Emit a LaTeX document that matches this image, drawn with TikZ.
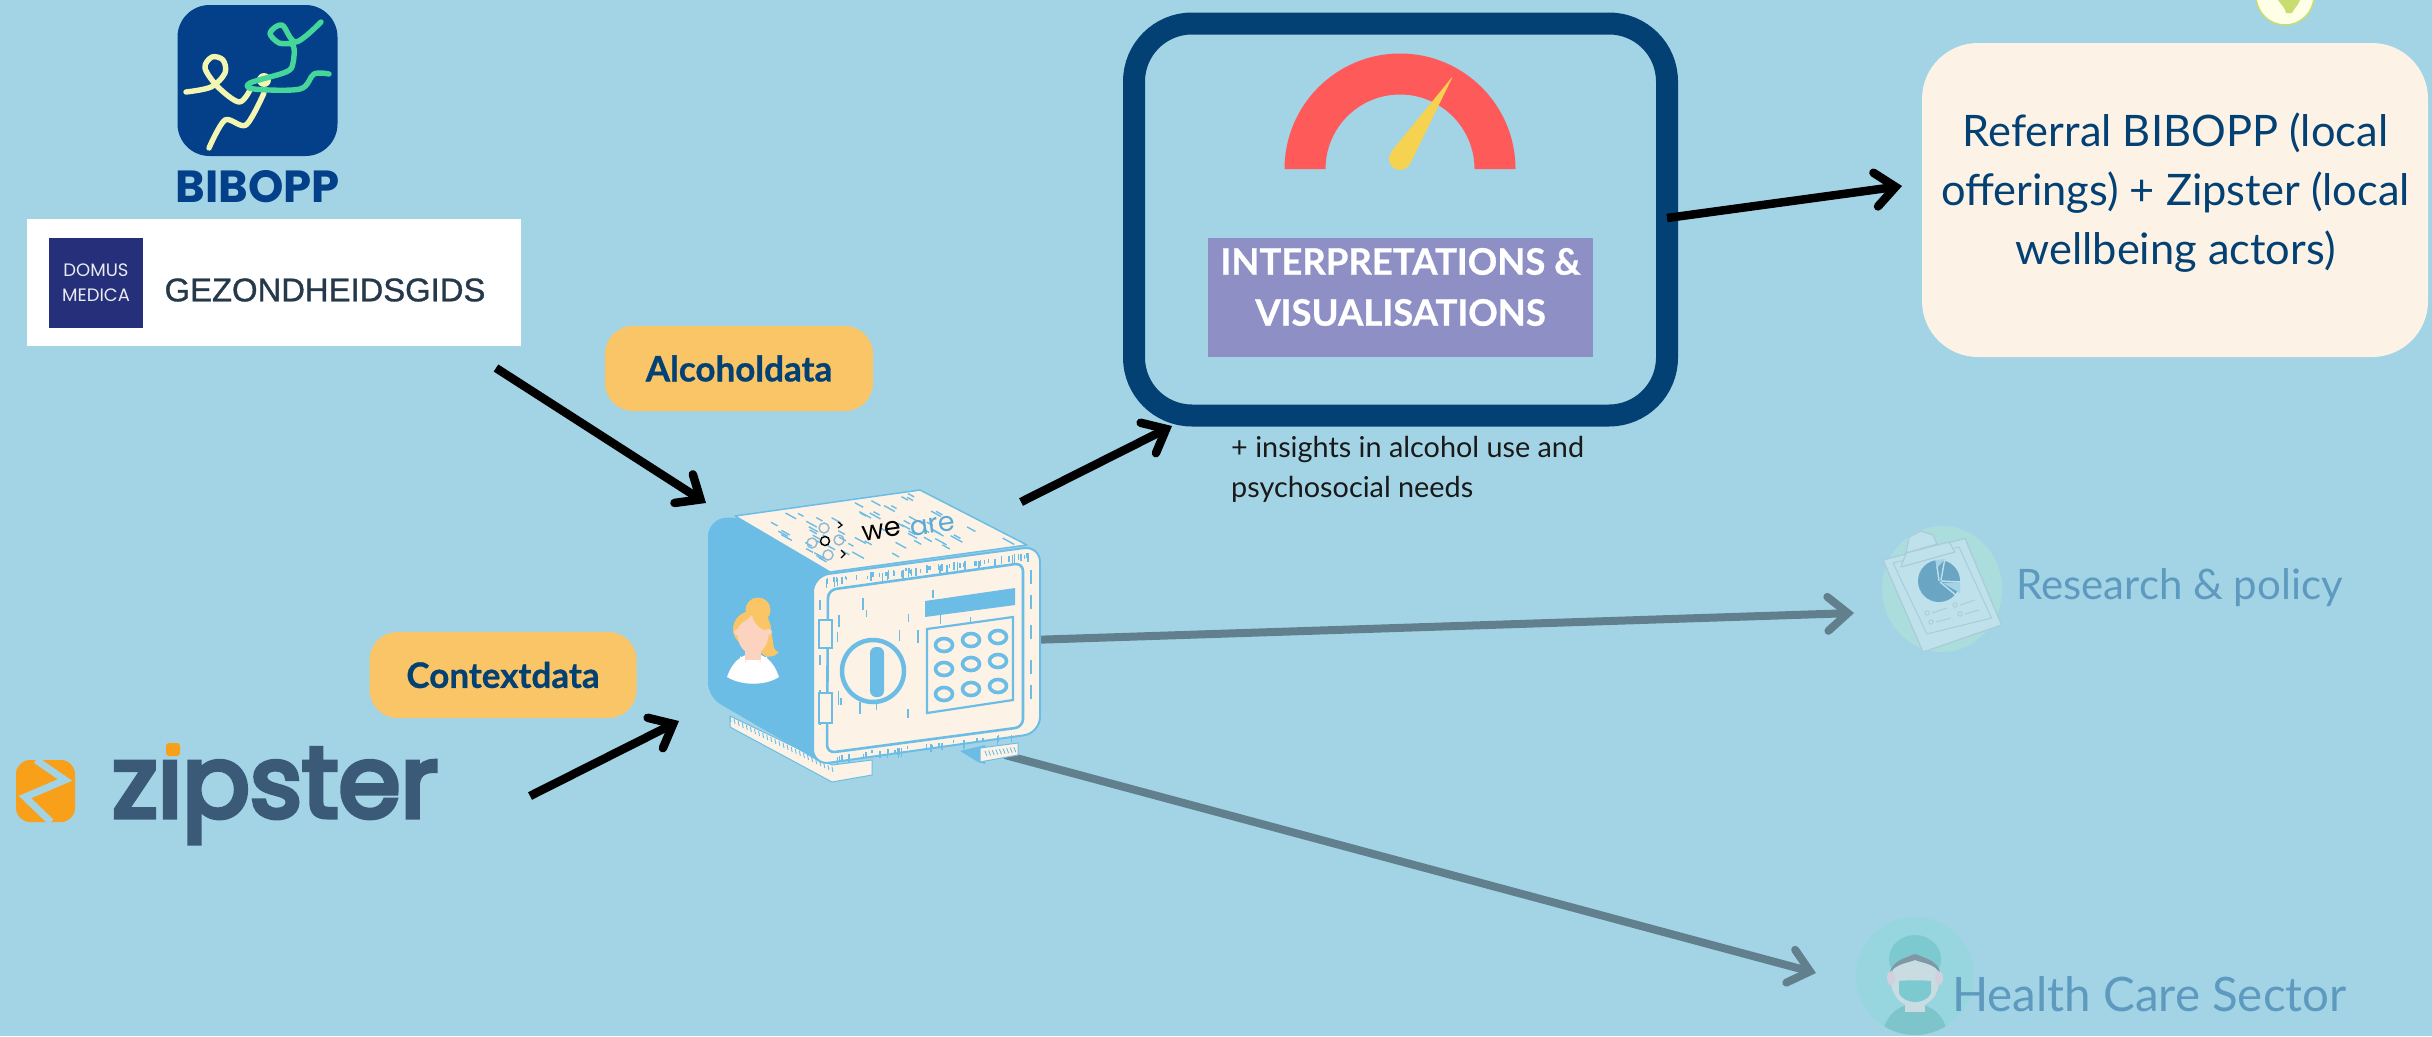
\documentclass[tikz,border=0pt]{standalone}
\usepackage{fontspec}
\setmainfont{Lato}
\newfontfamily\popf{Poppins}
\newfontfamily\zipf{Poppins}[FakeBold=5]
\newfontfamily\libf{Liberation Sans}
\newfontfamily\libfb{Liberation Sans}[FakeBold=1]
\newfontfamily\heavyf{Lato Bold}[FakeBold=0.8]
\usetikzlibrary{arrows.meta,calc}
\definecolor{bgc}{HTML}{A3D4E6}
\definecolor{navy}{HTML}{034174}
\definecolor{logob}{HTML}{04408A}
\definecolor{badgec}{HTML}{FAC566}
\definecolor{creamc}{HTML}{FCF3E6}
\definecolor{safeb}{HTML}{6CBDE6}
\definecolor{grayc}{HTML}{627F8D}
\definecolor{fadet}{HTML}{5E9ABF}
\definecolor{purp}{HTML}{8E8FC4}
\definecolor{redg}{HTML}{FF5A5A}
\definecolor{yelg}{HTML}{F5D250}
\definecolor{domus}{HTML}{26307A}
\definecolor{zipb}{HTML}{3A5A78}
\definecolor{zipo}{HTML}{F9A01B}
\definecolor{glogo}{HTML}{45D699}
\definecolor{ylogo}{HTML}{F2F6B0}
\definecolor{gdtxt}{HTML}{25394A}
\definecolor{blobc}{HTML}{ABDDDD}
\definecolor{boardc}{HTML}{BEE1EC}
\definecolor{boardl}{HTML}{A9CCD8}
\definecolor{piec}{HTML}{6AA5C4}
\definecolor{circc}{HTML}{97D6DE}
\definecolor{capc}{HTML}{7CCAD0}
\definecolor{facec}{HTML}{C8DCE2}
\definecolor{bodyc}{HTML}{7DC4CB}
\definecolor{hairc}{HTML}{7E99A5}
\definecolor{earc}{HTML}{D3CFDC}
\definecolor{skinc}{HTML}{FBD3BE}
\definecolor{topg}{HTML}{C9DC6E}
\tikzset{
  blackarrow/.style={line width=8.5pt,black,-{Straight Barb[length=20pt,width=34pt,line cap=round,line join=miter]}},
  grayarrow/.style={line width=8pt,grayc,-{Straight Barb[length=20pt,width=34pt,line cap=round,line join=miter]}},
  badge/.style={fill=badgec,rounded corners=28pt,inner sep=0pt,text=navy,font=\fontsize{35}{40}\selectfont\heavyf},
  hatch/.style={safeb,line width=1.4pt},
  safeline/.style={safeb,line width=2.6pt},
  logoline/.style={line width=5.4pt,line cap=round,line join=round},
  btn/.style={draw=safeb,line width=3.6pt,fill=creamc},
  faded/.style={text=fadet,inner sep=0pt,font=\fontsize{42}{48}\selectfont},
}
\begin{document}
\begin{tikzpicture}[x=1pt,y=-1pt]
\fill[bgc] (0,0) rectangle (2432,1036);
\useasboundingbox (0,0) rectangle (2432,1036);
\clip (0,0) rectangle (2432,1036);

% named ends of connectors
\coordinate (gdS) at (496,368);  \coordinate (safeIn1) at (706,503);
\coordinate (zipS) at (530,796); \coordinate (safeIn2) at (679,721);
\coordinate (safeO1) at (1021,502); \coordinate (frameIn) at (1172,426);
\coordinate (frameO) at (1667,218); \coordinate (refIn) at (1902,186);
\coordinate (safeO2) at (1030,640); \coordinate (resIn) at (1854,613);
\coordinate (safeO3) at (1005,755); \coordinate (careIn) at (1816,973);

% grey connectors lie behind the safe
\draw[grayarrow] (safeO2) -- (resIn);
\draw[grayarrow] (safeO3) -- (careIn);

% BIBOPP logo
\node[fill=logob,rounded corners=32pt,minimum width=160pt,minimum height=151pt,inner sep=0pt] (bibicon) at (257.5,80.5) {};
\draw[logoline,ylogo] plot[smooth,tension=.55] coordinates {(186,92) (211,87) (225,73) (223,60) (212,57) (205,68) (218,87) (239,102) (250,90)};
\draw[logoline,ylogo] plot[smooth,tension=.5] coordinates {(264,93) (246,125) (225,120) (209,148)};
\fill[ylogo] (264,80) circle[radius=7pt];
\draw[logoline,glogo] plot[smooth,tension=.55] coordinates {(321,22) (296,42) (282,25) (270,33) (279,43) (293,45) (293,63) (286,72) (250,83) (254,89) (300,89) (314,74) (329,74)};
\node[inner sep=0pt,text=logob,font=\fontsize{45}{50}\selectfont\popf\bfseries] (bibtext) at (258,187) {BIBOPP};

% Gezondheidsgids logo
\node[fill=white,minimum width=494pt,minimum height=127pt,inner sep=0pt] (gdbox) at (274,282.5) {};
\node[fill=domus,minimum width=94pt,minimum height=90pt,inner sep=0pt,text=white!90!domus,align=center,font=\fontsize{18}{25}\selectfont\popf] (domus) at (96,283) {DOMUS\\MEDICA};
\node[inner sep=0pt,text=gdtxt,font=\fontsize{32.8}{36}\selectfont\libfb] (gdtext) at (325,290) {GEZONDHEIDSGIDS};

% Zipster logo
\node[fill=zipo,rounded corners=14pt,minimum width=59pt,minimum height=62pt,inner sep=0pt] (zipicon) at (45.5,791) {};
\draw[bgc,line width=7pt,line join=miter] (36,760) -- (65,780) -- (25,797) -- (51,822);
\node[inner sep=0pt,anchor=base west,text=zipb,font=\fontsize{100}{110}\selectfont\zipf] (ziptext) at (112,817) {zipster};
\fill[bgc] (156,725) rectangle (190,757);
\fill[zipo,rounded corners=3pt] (166,743) rectangle (180,756);

% badges
\node[badge,minimum width=268pt,minimum height=85pt] (alc) at (739,368.5) {Alcoholdata};
\node[badge,minimum width=267pt,minimum height=86pt] (ctx) at (503,675) {Contextdata};

% safe: feet
\fill[safeb] (960,751) -- (985,745) -- (985,764) -- (978,762) -- cycle;
\filldraw[fill=creamc,draw=safeb,line width=1pt] (730,716) -- (730,727) -- (832,782) -- (872,775) -- (872,760) -- (832,765) -- cycle;
\filldraw[fill=creamc,draw=safeb,line width=1pt] (980,748) -- (1018,743) -- (1018,755) -- (980,762) -- cycle;
\foreach \u in {0,0.04,...,1}{\draw[safeb,line width=.9pt] ({730+102*\u},{717+50*\u}) -- ++(1,5);}
\foreach \u in {0,0.12,...,1}{\draw[safeb,line width=.9pt] ({985+30*\u},{751-4*\u}) -- ++(2,5);}
% safe: side panel
\fill[safeb,rounded corners=14pt] (735,515) -- (708,522) -- (708,697) -- (830,768) -- (830,565) -- cycle;
% safe: top
\filldraw[fill=creamc,draw=safeb,line width=1.5pt,line join=round] (735,516) -- (920,490) -- (1027,545) -- (830,572) -- cycle;
\pgfmathsetseed{11}
\foreach \i in {1,...,62}{
  \pgfmathsetmacro\u{rnd} \pgfmathsetmacro\v{rnd*0.92}
  \pgfmathsetmacro\px{745+178*\u+92*\v} \pgfmathsetmacro\py{516-25*\u+52*\v}
  \pgfmathsetmacro\ll{5+rnd*7}
  \draw[hatch] (\px,\py) -- ++(\ll,{0.55*\ll});
}
% safe: front
\filldraw[fill=creamc,draw=safeb,line width=2pt,rounded corners=16pt] (813,576) -- (1040,546) -- (1040,733) -- (813,765) -- cycle;
\foreach \i in {1,...,70}{
  \pgfmathsetmacro\u{rnd} \pgfmathsetmacro\ll{3+rnd*7}
  \pgfmathsetmacro\px{825+205*\u} \pgfmathsetmacro\py{578-26*\u+rnd*3}
  \draw[hatch] (\px,\py) -- ++(0,\ll);
}
\foreach \i in {1,...,30}{
  \pgfmathsetmacro\u{rnd} \pgfmathsetmacro\ll{3+rnd*6}
  \pgfmathsetmacro\px{835+190*\u} \pgfmathsetmacro\py{755-24*\u+rnd*3}
  \draw[hatch] (\px,\py) -- ++(0,\ll);
}
\draw[safeline,rounded corners=8pt] (828,590) -- (1023,563) -- (1023,727) -- (827,753) -- cycle;
\foreach \i in {1,...,30}{
  \pgfmathsetmacro\u{rnd} \pgfmathsetmacro\v{rnd} \pgfmathsetmacro\ll{6+rnd*10}
  \pgfmathsetmacro\px{835+175*\u} \pgfmathsetmacro\py{600-22*\u+120*\v}
  \draw[hatch] (\px,\py) -- ++(0,\ll);
}
\foreach \yy in {600,625,655,690,715}{\draw[hatch] (820,\yy) -- ++(0,10); \draw[hatch] (1031,{\yy-30}) -- ++(0,14);}
% hinges
\filldraw[fill=creamc,draw=safeb,line width=2pt] (819,620) rectangle (832,648);
\filldraw[fill=creamc,draw=safeb,line width=2pt] (819,693) rectangle (832,723);
% display
\fill[safeb] (925,601) -- (1015,588) -- (1015,605) -- (925,617) -- cycle;
% keypad
\filldraw[fill=creamc,draw=safeb,line width=2.2pt] (927,629) -- (1013,617) -- (1013,700) -- (927,713) -- cycle;
\foreach \px/\py in {944/645,971/640,998/637,944/669,971/664,998/661,944/694,971/689,998/686}{
  \draw[btn] (\px,\py) circle[x radius=8.5pt,y radius=6.5pt];
}
% dial
\draw[safeb,line width=4.5pt,fill=creamc] (873,671) circle[radius=31pt];
\fill[safeb,rounded corners=6pt] (870,647) rectangle (884,697);
% person
\fill[badgec] (758,610) circle[radius=12.5pt];
\fill[badgec] (752,629) ellipse[x radius=19pt,y radius=18pt];
\fill[badgec] (768,625) .. controls (776,640) and (770,650) .. (779,652) .. controls (770,662) and (757,655) .. (755,640) -- cycle;
\fill[white] (727,677) .. controls (733,660) and (742,655) .. (753,653) .. controls (765,655) and (773,660) .. (779,677) .. controls (765,686) and (742,686) .. (727,677) -- cycle;
\fill[skinc] (745,640) rectangle (761,662);
\fill[white] (740,656) .. controls (745,665) and (761,665) .. (767,656) -- (767,660) -- (740,660) -- cycle;
\fill[skinc] (753,634) ellipse[x radius=15.5pt,y radius=20pt];
\fill[skinc] (737,632) circle[radius=3pt];
\fill[skinc] (769,632) circle[radius=3pt];
\fill[badgec] (738,627) .. controls (740,612) and (755,610) .. (768,617) .. controls (770,625) and (769,630) .. (766,630) .. controls (760,630) and (753,622) .. (752,615) .. controls (748,620) and (741,622) .. (738,627) -- cycle;
% "we are" on the safe
\foreach \px/\py in {824/528,812/543,839/540,828/555}{\draw[fadet!70,line width=1.4pt] (\px,\py) circle[radius=5pt];}
\draw[black,line width=1.4pt] (825,541) circle[radius=4.5pt];
\draw[black,line width=1.2pt] (838,522) -- (842,525) -- (838,528);
\draw[black,line width=1.2pt] (841,550) -- (845,554) -- (841,558);
\node[inner sep=0pt,rotate=8,font=\fontsize{27}{30}\selectfont\popf] (we) at (882,531) {we};
\node[inner sep=0pt,rotate=8,text=safeb!85!navy,font=\fontsize{27}{30}\selectfont\popf] (are) at (933,526) {are};

% frame with gauge
\node[draw=navy,line width=22pt,rounded corners=58pt,minimum width=533pt,minimum height=392pt,inner sep=0pt] (frame) at (1400.5,219.5) {};
\fill[redg] (1284.5,169) arc[start angle=180,end angle=0,radius=115.5pt] -- (1474.5,169) arc[start angle=0,end angle=180,radius=74.5pt] -- cycle;
\fill[yelg,rounded corners=1.5pt] (1409,166) -- (1453,76) -- (1391,152) -- cycle;
\fill[yelg] (1400,159) circle[radius=11pt];
\node[fill=purp,minimum width=385pt,minimum height=119pt,inner sep=0pt] (interp) at (1400.5,297.5) {};
\node[text=white,inner sep=0pt,align=center,font=\fontsize{36.5}{51}\selectfont\heavyf] (interptext) at (1400.5,287) {INTERPRETATIONS \&\\VISUALISATIONS};
\node[inner sep=0pt,anchor=base west,align=left,text=black!90,font=\fontsize{28.8}{40}\selectfont] (insights) at (1231,497) {+ insights in alcohol use and\\psychosocial needs};

% black connectors
\draw[blackarrow] (gdS) -- (safeIn1);
\draw[blackarrow] (zipS) -- (safeIn2);
\draw[blackarrow] (safeO1) -- (frameIn);
\draw[blackarrow] (frameO) -- (refIn);

% referral
\node[fill=creamc,rounded corners=56pt,minimum width=506pt,minimum height=314pt,inner sep=0pt] (ref) at (2175,200) {};
\node[inner sep=0pt,align=center,text=navy,font=\fontsize{43.4}{59}\selectfont] (reftext) at (2175.5,193) {Referral BIBOPP (local\\offerings) + Zipster (local\\wellbeing actors)};
\filldraw[fill=white!90!yellow,draw=topg,line width=1.5pt] (2285,-4) circle[radius=29pt];
\fill[topg] (2278,0) -- (2300,0) .. controls (2298,6) and (2294,8) .. (2292,13) -- (2286,13) .. controls (2285,7) and (2281,5) .. (2278,0) -- cycle;

% research icon
\fill[blobc] (1942,589) ellipse[x radius=60pt,y radius=63pt];
\filldraw[fill=boardc,draw=boardl,line width=1.2pt,line join=round] (1906,553) -- (1909,537) -- (1921,531) -- (1933,535) -- (1937,544) -- cycle;
\filldraw[fill=boardc,draw=boardl,line width=1.2pt,line join=round] (1883,560) -- (1965,538.5) -- (2001.5,625) -- (1923,652) -- cycle;
\draw[boardl,line width=1pt] (1893,563) -- (1959,547) -- (1991.5,618) -- (1927,634) -- cycle;
\filldraw[fill=boardc,draw=boardl,line width=1.2pt,line join=round] (1901,567) -- (1906,553) -- (1949,542) -- (1955,552) -- cycle;
\fill[piec] (1939,581) circle[radius=21pt];
\draw[boardc,line width=1.4pt] (1939,581) -- (1936,559);
\draw[boardc,line width=1.4pt] (1941,580) -- (1945,558);
\draw[boardc,line width=1.4pt] (1941,581) -- (1961,582);
\draw[boardc,line width=1.4pt] (1940,582) -- (1957,596);
\fill[bgc] (1936,569) -- (1936,560) -- (1945,559) -- cycle;
\fill[bgc] (1943,583) -- (1960,582) -- (1960,593) -- cycle;
\foreach \ax/\ay/\bx/\by in {1927/613/1947/608,1955/605/1975/600,1931/622/1951/618,1960/614/1979/610}{
  \draw[boardl,line width=.9pt] (\ax,\ay) circle[radius=2.2pt];
  \draw[boardl,line width=.9pt] (\ax+5,\ay) -- (\bx,\by);
}
\node[faded,anchor=base west] (restext) at (2016,599) {Research \& policy};

% health care icon
\begin{scope}
\clip (1915,976) circle[radius=59pt];
\fill[circc] (1915,976) circle[radius=59pt];
\fill[bodyc] (1915,1036) ellipse[x radius=32pt,y radius=32pt];
\fill[capc] (1915,959) ellipse[x radius=26pt,y radius=24pt];
\fill[facec] (1915,981) ellipse[x radius=24pt,y radius=26pt];
\fill[earc] (1891,978) ellipse[x radius=4pt,y radius=7pt];
\fill[earc] (1939,978) ellipse[x radius=4pt,y radius=7pt];
\fill[facec] (1905,1000) rectangle (1925,1012);
\fill[hairc] (1890,972) .. controls (1892,962) and (1905,957) .. (1915,954) .. controls (1925,957) and (1938,962) .. (1940,972) .. controls (1932,963) and (1922,963) .. (1915,960) .. controls (1908,963) and (1898,963) .. (1890,972) -- cycle;
\fill[capc] (1899,981) .. controls (1908,980) and (1922,980) .. (1931,981) -- (1931,993) .. controls (1928,1000) and (1920,1002) .. (1915,1002) .. controls (1910,1002) and (1902,1000) .. (1899,993) -- cycle;
\end{scope}
\node[faded,anchor=base west,font=\fontsize{47.5}{52}\selectfont] (caretext) at (1952,1011) {Health Care Sector};
\end{tikzpicture}
\end{document}
